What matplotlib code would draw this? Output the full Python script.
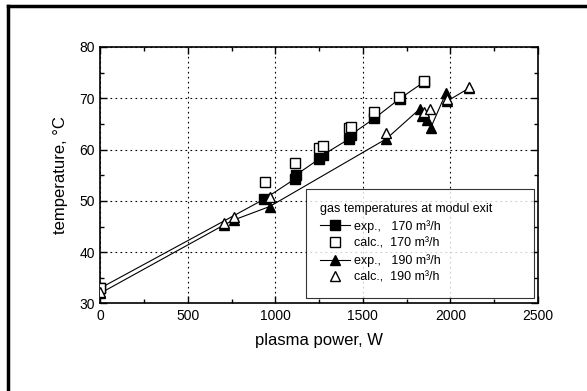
import matplotlib
matplotlib.use("Agg")
import matplotlib.pyplot as plt
from matplotlib.lines import Line2D
from matplotlib.ticker import MultipleLocator

plt.rcParams['font.family'] = ['Liberation Sans', 'DejaVu Sans']

# experiment, 170 m3/h
exp170_power = [0, 934, 1112, 1115, 1251, 1273, 1422, 1431, 1566, 1709, 1850]
exp170_temp = [33.0, 50.3, 54.3, 55.0, 58.2, 59.0, 62.1, 62.9, 66.1, 69.9, 73.2]
# calculation, 170 m3/h
calc170_power = [0, 939, 1112, 1251, 1271, 1423, 1433, 1566, 1707, 1851]
calc170_temp = [33.1, 53.6, 57.4, 60.3, 60.7, 64.2, 64.5, 67.4, 70.2, 73.4]
# experiment, 190 m3/h
exp190_power = [0, 706, 764, 967, 1634, 1827, 1837, 1865, 1888, 1974, 1979, 2107]
exp190_temp = [32.0, 45.3, 46.3, 48.9, 62.1, 68.0, 66.5, 65.8, 64.3, 71.0, 69.4, 72.0]
# calculation, 190 m3/h
calc190_power = [0, 706, 764, 971, 1634, 1850, 1884, 1979, 2107]
calc190_temp = [32.3, 45.7, 46.8, 50.7, 63.3, 67.3, 68.0, 69.8, 72.2]

fig = plt.figure(figsize=(5.87, 3.91), dpi=100)
ax = fig.add_axes([0.1709, 0.2238, 0.7456, 0.656])

ms_sq = 6.5
ms_tri = 7.5
ax.plot(exp170_power, exp170_temp, color='black', linewidth=0.8, marker='s',
        markersize=ms_sq, markerfacecolor='black', markeredgecolor='black',
        label='exp.,   170 m³/h', zorder=3)
ax.plot(exp190_power, exp190_temp, color='black', linewidth=0.8, marker='^',
        markersize=ms_tri, markerfacecolor='black', markeredgecolor='black',
        label='exp.,   190 m³/h', zorder=3)
ax.plot(calc170_power, calc170_temp, linestyle='none', marker='s',
        markersize=ms_sq, markerfacecolor='white', markeredgecolor='black',
        markeredgewidth=1.0, label='calc.,  170 m³/h', zorder=4)
ax.plot(calc190_power, calc190_temp, linestyle='none', marker='^',
        markersize=ms_tri, markerfacecolor='white', markeredgecolor='black',
        markeredgewidth=1.0, label='calc.,  190 m³/h', zorder=4)

ax.set_xlim(0, 2500)
ax.set_ylim(30, 80)
ax.xaxis.set_major_locator(MultipleLocator(500))
ax.xaxis.set_minor_locator(MultipleLocator(250))
ax.yaxis.set_major_locator(MultipleLocator(10))
ax.yaxis.set_minor_locator(MultipleLocator(5))
ax.tick_params(which='both', direction='in', top=True, right=True, width=1.0)
ax.tick_params(which='major', length=5, labelsize=10, pad=4)
ax.tick_params(which='minor', length=3)
for sp in ax.spines.values():
    sp.set_linewidth(1.2)
ax.grid(True, which='major', color='black', linestyle=(0, (1.5, 3)), linewidth=0.8)
ax.set_axisbelow(True)

ax.set_xlabel('plasma power, W', fontsize=12, labelpad=7)
ax.set_ylabel('temperature, °C', fontsize=12, labelpad=8)

handles, labels = ax.get_legend_handles_labels()
order = [0, 2, 1, 3]
# legend box spans 306..533 px across, bottom edge near 298 px
leg = ax.legend([handles[i] for i in order], [labels[i] for i in order],
                title='gas temperatures at modul exit', alignment='left',
                loc='lower left', bbox_to_anchor=(0.47, 0.021, 0.52, 0.4),
                mode='expand', fontsize=9, title_fontsize=9, frameon=True,
                fancybox=False, shadow=False, handlelength=2.4,
                handletextpad=0.3, labelspacing=0.38, borderpad=1.15,
                borderaxespad=0.0)
leg.get_frame().set_edgecolor('black')
leg.get_frame().set_linewidth(0.8)

# page frame (left and top edges)
fig.add_artist(Line2D([8 / 587, 8 / 587], [0, 1 - 6 / 391], color='black', linewidth=2.5))
fig.add_artist(Line2D([8 / 587, 1], [1 - 6 / 391, 1 - 6 / 391], color='black', linewidth=2.5))

fig.savefig('out.png', dpi=100)
